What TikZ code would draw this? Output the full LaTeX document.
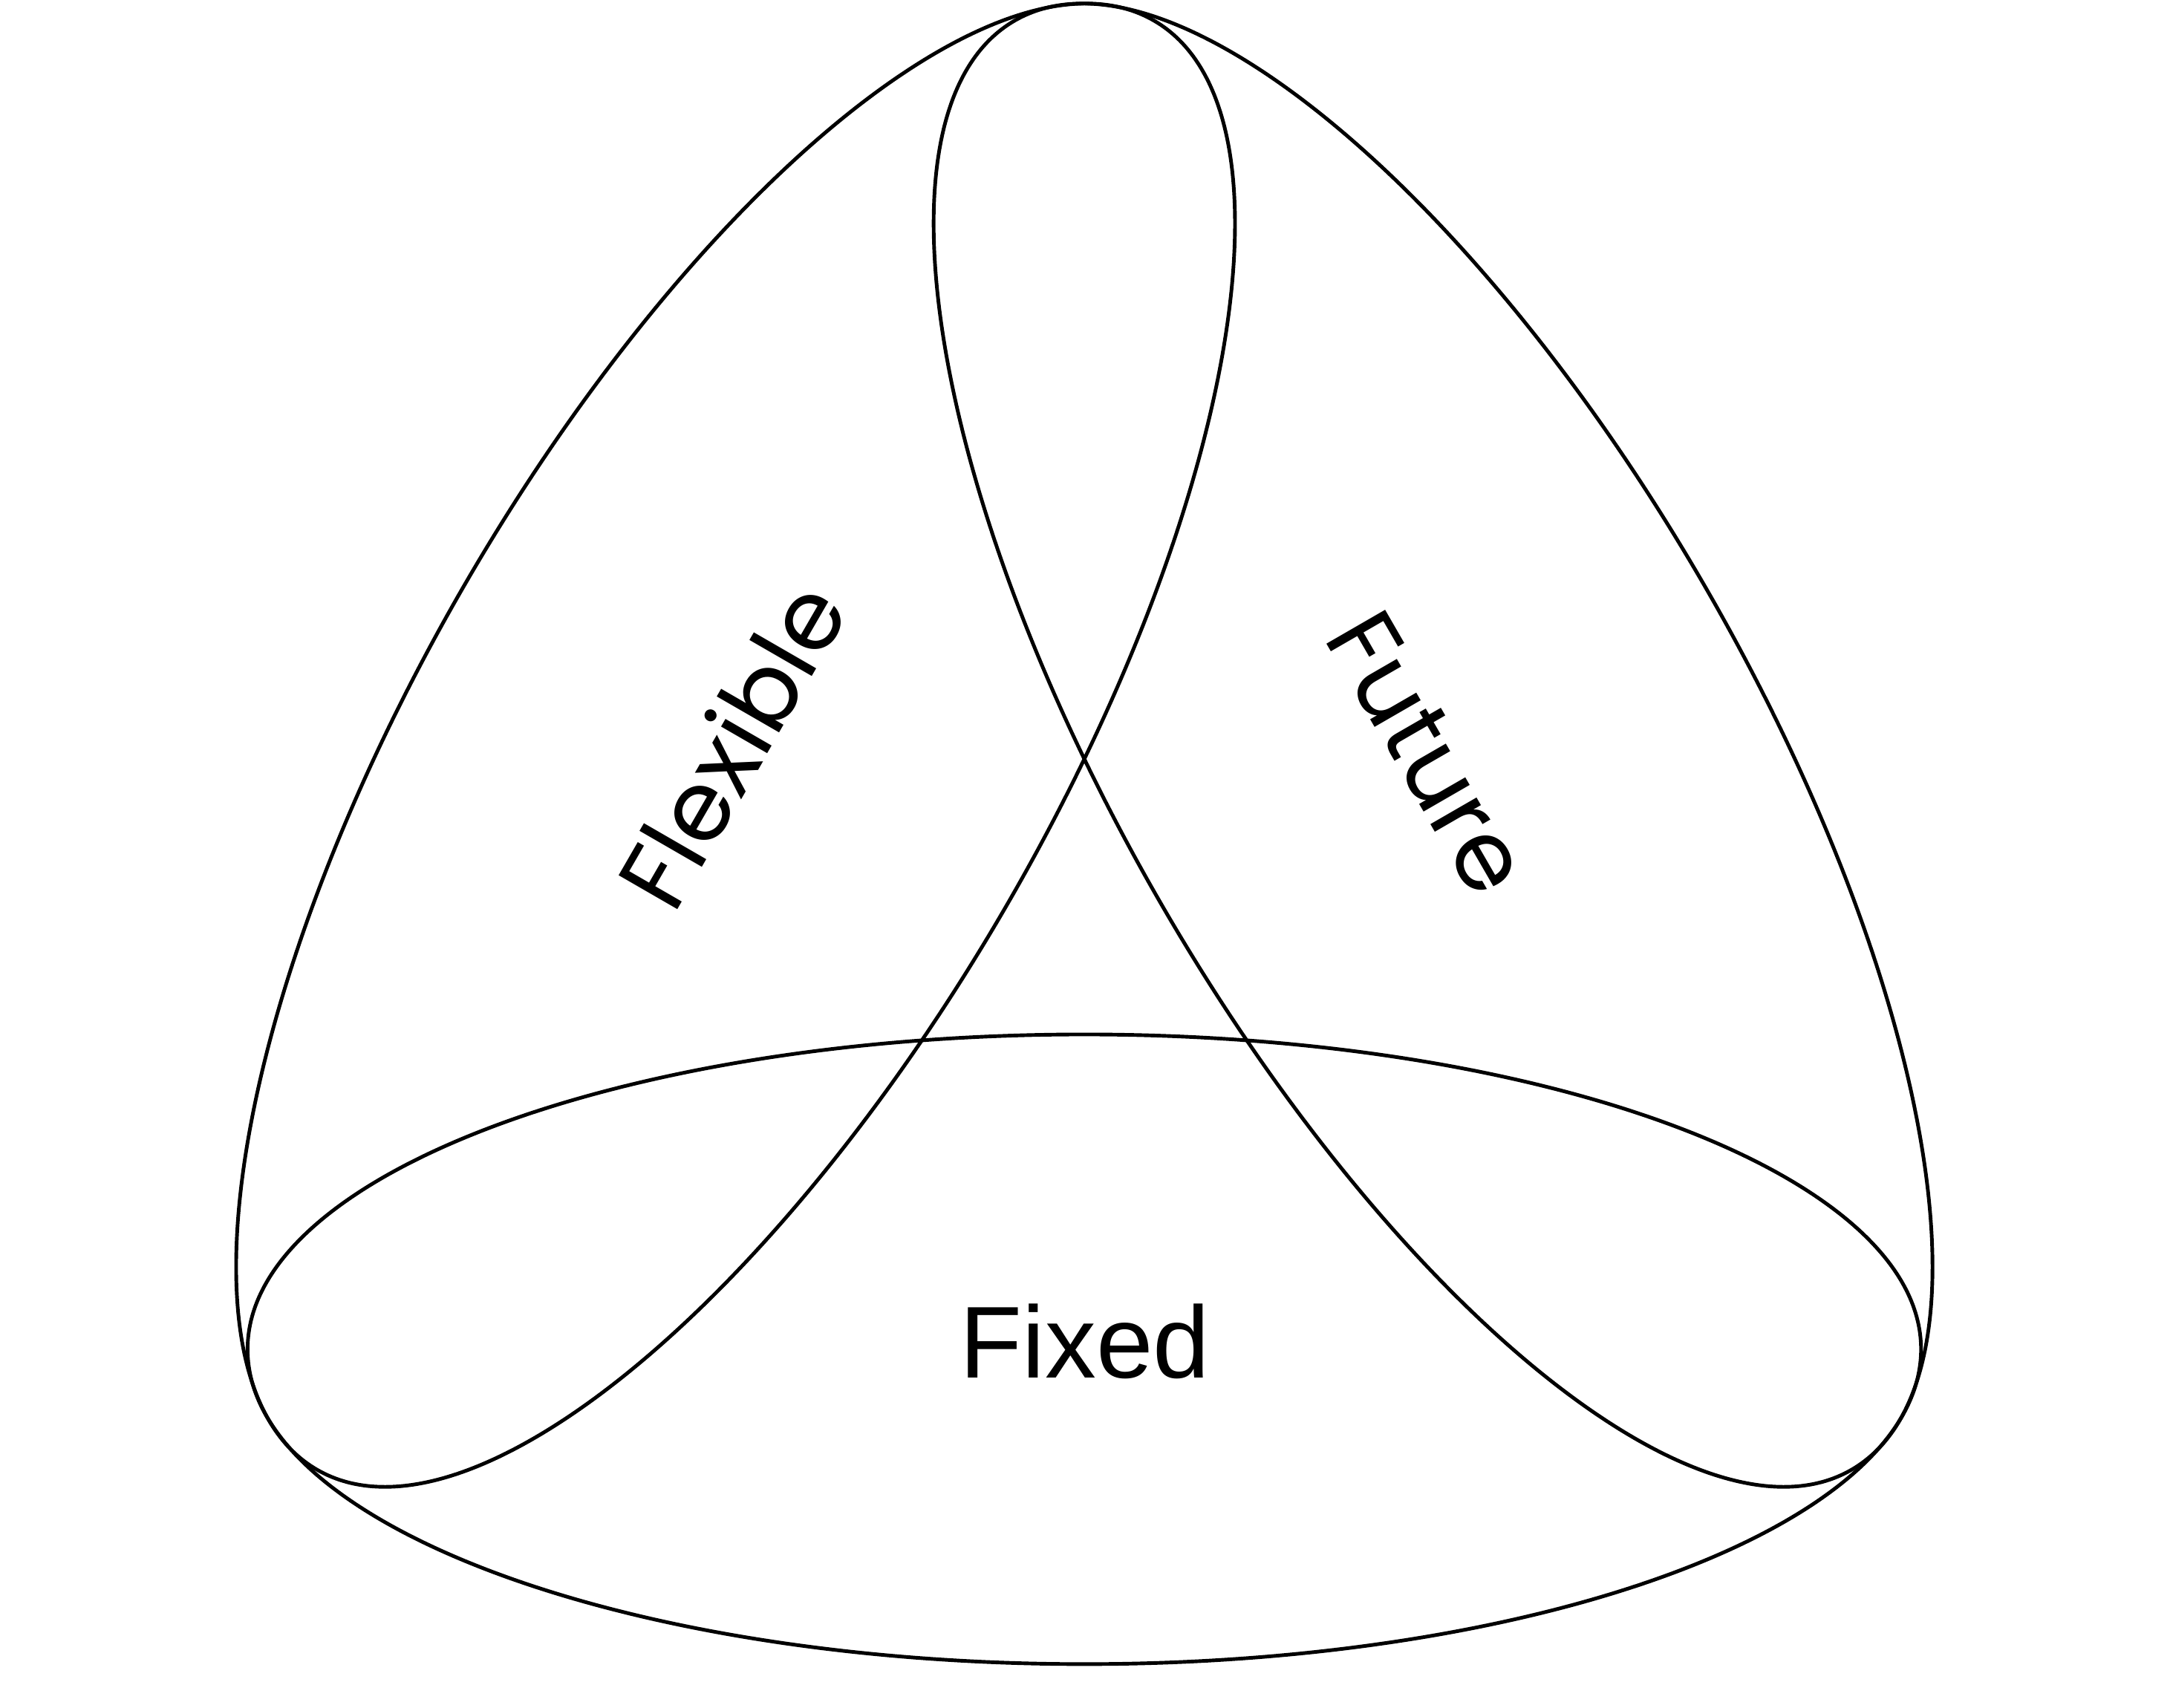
\documentclass[tikz,border=0pt]{standalone}
\usepackage{fontspec}
\setmainfont{Liberation Sans}
\newfontfamily\geofont{Poppins}
\begin{document}
\begin{tikzpicture}[x=0.2mm,y=0.2mm,
  ring/.style={draw=black, line width=1.5pt},
  lbl/.style={inner sep=0pt, text=black},
  geolbl/.style={lbl, font=\geofont\fontsize{40}{46}\selectfont}]
\useasboundingbox (0,0) rectangle (1568,1234);
% three congruent ellipses, rotationally arranged
\draw[ring] (783.5,259) ellipse [x radius=604.6, y radius=227.5];
\draw[ring, rotate around={60:(531.5,695.5)}] (531.5,695.5) ellipse [x radius=604.6, y radius=227.5];
\draw[ring, rotate around={-60:(1035.5,695.5)}] (1035.5,695.5) ellipse [x radius=604.6, y radius=227.5];
% labels
\node[geolbl, rotate=60] (flex) at (528,696) {Flexible};
\node[geolbl, rotate=-60] (fut) at (1032,690) {Future};
\node[lbl, font=\fontsize{42}{48}\selectfont, anchor=base] (fixed) at (784,238.5) {Fixed};
\end{tikzpicture}
\end{document}
